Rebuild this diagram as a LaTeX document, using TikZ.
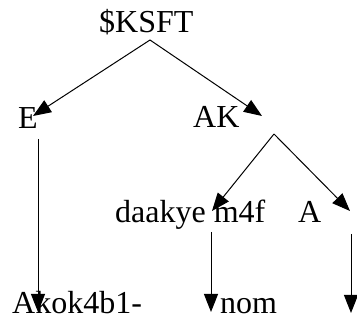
\documentclass[tikz,border=0pt]{standalone}
\usepackage{fontspec}
\setmainfont{Liberation Serif}
\usetikzlibrary{arrows.meta}
\begin{document}
\begin{tikzpicture}[x=1pt,y=-1pt,
  lbl/.style={inner sep=0pt,anchor=base west,font=\fontsize{32}{38}\selectfont},
  arr/.style={line width=1pt,-{Triangle[length=18pt,width=14pt]}}]
\useasboundingbox (0,0) rectangle (357,320);
% labels
\node[lbl] (ksft) at (99,33) {\$KSFT};
\node[lbl] (e) at (18,129) {E};
\node[lbl] (ak) at (193,128) {AK};
\node[lbl] (dm) at (115,223) {daakye m4f};
\node[lbl] (a) at (298,223) {A};
\node[lbl] (akok) at (12,314) {Akok4b1-};
\node[lbl] (nom) at (220,314) {nom};
% connector points
\coordinate (r) at (150,40);
\coordinate (tE) at (33,116);
\coordinate (tAK) at (262,116);
\coordinate (s) at (274,134);
\coordinate (tD) at (212,211);
\coordinate (tA) at (350,211);
\coordinate (e1) at (38,139);
\coordinate (e2) at (38,312);
\coordinate (m1) at (211,232);
\coordinate (m2) at (211,312);
\coordinate (a1) at (351,234);
\coordinate (a2) at (351,313);
% connectors
\draw[arr] (r) -- (tE);
\draw[arr] (r) -- (tAK);
\draw[arr] (s) -- (tD);
\draw[arr] (s) -- (tA);
\draw[arr] (e1) -- (e2);
\draw[arr] (m1) -- (m2);
\draw[arr] (a1) -- (a2);
\end{tikzpicture}
\end{document}
